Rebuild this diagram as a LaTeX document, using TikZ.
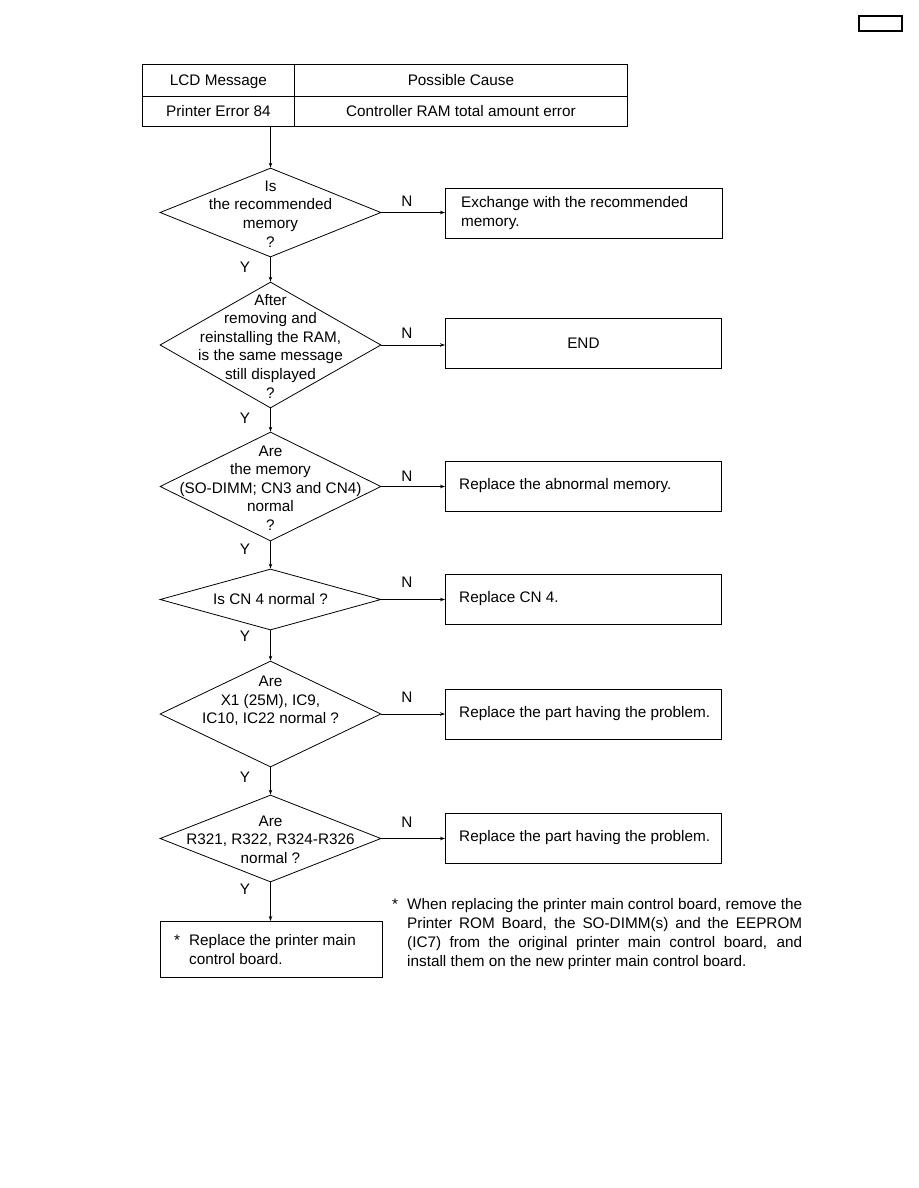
\documentclass[tikz,border=0pt]{standalone}
\usepackage{fontspec}
\setmainfont{Liberation Sans}
\usetikzlibrary{shapes.geometric, arrows.meta, positioning}

\begin{document}
\begin{tikzpicture}[x=1pt, y=-1pt, font=\fontsize{15.3}{18.6}\selectfont]

  \tikzset{
    cell/.style={
        shape=rectangle,
        draw=black,
        line width=0.8pt,
        inner sep=0pt,
        anchor=north west,
        text height=11pt,
        text depth=0pt
      },
    decision/.style={
        shape=diamond,
        draw=black,
        line width=0.8pt,
        minimum width=221pt,
        inner sep=0pt
      },
    qtext/.style={align=center, inner sep=0pt, font=\fontsize{15.3}{18.6}\selectfont},
    actbox/.style={
        shape=rectangle,
        draw=black,
        line width=0.8pt,
        minimum width=276pt,
        minimum height=50pt,
        inner sep=0pt,
        anchor=west
      },
    acttext/.style={align=left, inner sep=0pt, anchor=west},
    yn/.style={inner sep=0pt},
    flow/.style={draw=black, line width=0.8pt, -{Stealth[length=5pt, width=3.5pt]}}
  }

  \useasboundingbox (0,0) rectangle (918,1188);

  % page tab
  \node[draw=black, line width=1.5pt, minimum width=43pt, minimum height=15pt, inner sep=0pt] (tab) at (880.5,23.5) {};

  % table
  \node[cell, minimum width=152pt, minimum height=32pt] (msg) at (142,64) {LCD Message};
  \node[cell, minimum width=333pt, minimum height=32pt] (cause) at (294,64) {Possible Cause};
  \node[cell, minimum width=152pt, minimum height=30pt] (err) at (142,96) {Printer Error 84};
  \node[cell, minimum width=333pt, minimum height=30pt] (errcause) at (294,96) {Controller RAM total amount error};

  % decisions
  \node[decision, minimum height=89pt] (d1) at (270.5,212.5) {};
  \node[qtext] (d1t) at (270.5,214) {Is\\the recommended\\memory\\?};

  \node[decision, minimum height=126pt] (d2) at (270.5,345) {};
  \node[qtext] (d2t) at (270.5,346) {After\\removing and\\reinstalling the RAM,\\is the same message\\still displayed\\?};

  \node[decision, minimum height=109pt] (d3) at (270.5,486.5) {};
  \node[qtext] (d3t) at (270.5,488) {Are\\the memory\\(SO-DIMM; CN3 and CN4)\\normal\\?};

  \node[decision, minimum height=61pt] (d4) at (270.5,599.5) {};
  \node[qtext] (d4t) at (d4) {Is CN 4 normal ?};

  \node[decision, minimum height=106pt] (d5) at (270.5,714) {};
  \node[qtext] (d5t) at (270.5,701) {Are\\X1 (25M), IC9,\\IC10, IC22 normal ?};

  \node[decision, minimum height=87pt] (d6) at (270.5,838.5) {};
  \node[qtext] (d6t) at (270.5,839.5) {Are\\R321, R322, R324-R326\\normal ?};

  % actions
  \node[actbox, minimum width=277pt] (b1) at (445,213) {};
  \node[acttext, right=16pt of b1.west] (b1t) {Exchange with the recommended\\memory.};

  \node[actbox] (b2) at (445,343) {END};

  \node[actbox] (b3) at (445,486) {};
  \node[acttext, right=14pt of b3.west] (b3t) {Replace the abnormal memory.};

  \node[actbox] (b4) at (445,599) {};
  \node[acttext, right=14pt of b4.west] (b4t) {Replace CN 4.};

  \node[actbox] (b5) at (445,714) {};
  \node[acttext, right=14pt of b5.west] (b5t) {Replace the part having the problem.};

  \node[actbox] (b6) at (445,838) {};
  \node[acttext, right=14pt of b6.west] (b6t) {Replace the part having the problem.};

  \node[actbox, minimum width=222pt, minimum height=56pt, anchor=north west] (pf) at (160,921) {};
  \node[acttext, right=14pt of pf.west] (pft) {\makebox[15pt][l]{*}Replace the printer main\\\hspace*{15pt}control board.};

  % note
  \node[inner sep=0pt, anchor=north west, text width=410pt, align=justify,
        font=\fontsize{15.3}{19}\selectfont] (note) at (392,898)
    {\leftskip=15pt\relax\hspace*{-15pt}\makebox[15pt][l]{*}When replacing the printer main control board, remove the\linebreak
     Printer ROM Board, the SO-DIMM(s) and the EEPROM\linebreak
     (IC7) from the original printer main control board, and\linebreak
     install them on the new printer main control board.\par};

  % Y / N labels
  \node[yn] (y1) at (245,267) {Y};
  \node[yn] (y2) at (245,418) {Y};
  \node[yn] (y3) at (245,549) {Y};
  \node[yn] (y4) at (245,636) {Y};
  \node[yn] (y5) at (245,777) {Y};
  \node[yn] (y6) at (245,889) {Y};

  \node[yn] (n1) at (407,201) {N};
  \node[yn] (n2) at (407,333) {N};
  \node[yn] (n3) at (407,476) {N};
  \node[yn] (n4) at (407,582) {N};
  \node[yn] (n5) at (407,697) {N};
  \node[yn] (n6) at (407,822) {N};

  % connectors
  \draw[flow] (errcause.south -| d1.north) -- (d1.north);
  \draw[flow] (d1.south) -- (d2.north);
  \draw[flow] (d2.south) -- (d3.north);
  \draw[flow] (d3.south) -- (d4.north);
  \draw[flow] (d4.south) -- (d5.north);
  \draw[flow] (d5.south) -- (d6.north);
  \draw[flow] (d6.south) -- (d6.south |- pf.north);

  \draw[flow] (d1.east) -- (d1.east -| b1.west);
  \draw[flow] (d2.east) -- (d2.east -| b2.west);
  \draw[flow] (d3.east) -- (d3.east -| b3.west);
  \draw[flow] (d4.east) -- (d4.east -| b4.west);
  \draw[flow] (d5.east) -- (d5.east -| b5.west);
  \draw[flow] (d6.east) -- (d6.east -| b6.west);

\end{tikzpicture}
\end{document}
